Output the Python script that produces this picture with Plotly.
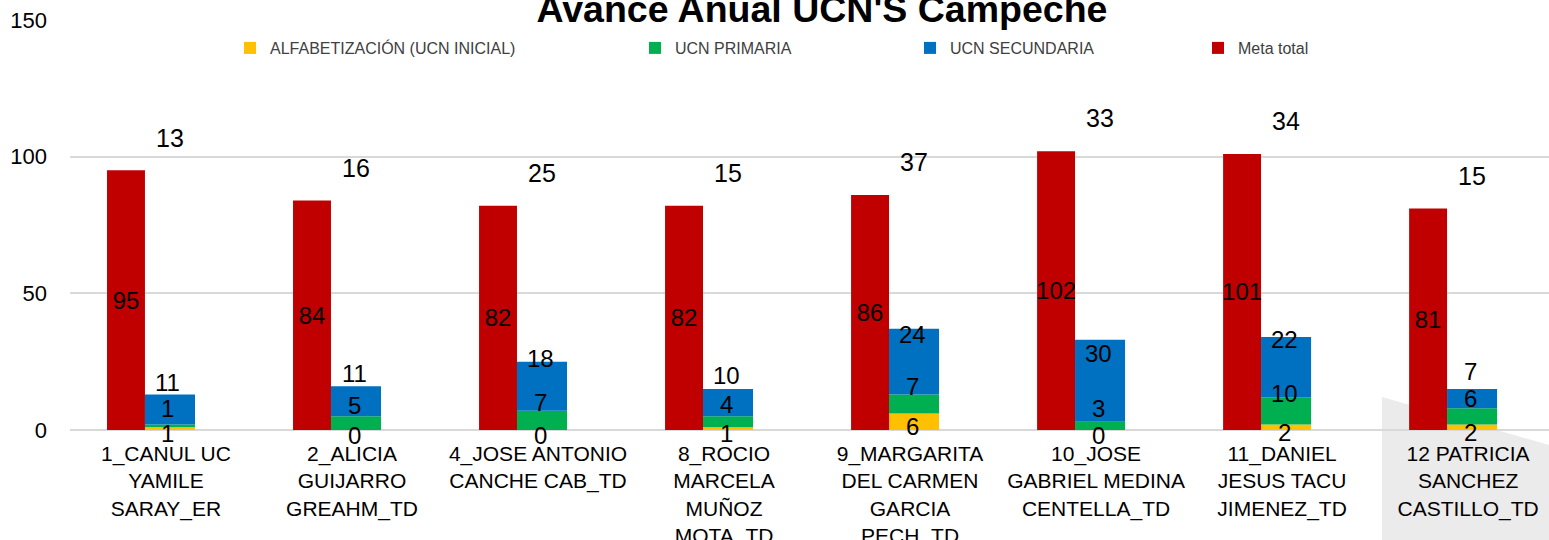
import plotly.graph_objects as go

# ---- data ----
categories = [
    "1_CANUL UC<br>YAMILE<br>SARAY_ER",
    "2_ALICIA<br>GUIJARRO<br>GREAHM_TD",
    "4_JOSE ANTONIO<br>CANCHE CAB_TD",
    "8_ROCIO<br>MARCELA<br>MUÑOZ<br>MOTA_TD",
    "9_MARGARITA<br>DEL CARMEN<br>GARCIA<br>PECH_TD",
    "10_JOSE<br>GABRIEL MEDINA<br>CENTELLA_TD",
    "11_DANIEL<br>JESUS TACU<br>JIMENEZ_TD",
    "12 PATRICIA<br>SANCHEZ<br>CASTILLO_TD",
]
alfabetizacion = [1, 0, 0, 1, 6, 0, 2, 2]
primaria = [1, 5, 7, 4, 7, 3, 10, 6]
secundaria = [11, 11, 18, 10, 24, 30, 22, 7]
meta_total = [95, 84, 82, 82, 86, 102, 101, 81]
y_ticks = [0, 50, 100, 150]

# ---- styles ----
C_YEL = "#FFC000"
C_GRN = "#00B050"
C_BLU = "#0070C0"
C_RED = "#C00000"
FONT = "Liberation Sans, Arial, sans-serif"
W, H = 1549, 540
ML, MR, MT, MB = 70, 0, 20, 110
LABEL_SIZE = 24

base_green = alfabetizacion[:]
base_blue = [a + p for a, p in zip(alfabetizacion, primaria)]
totals = [a + p + s for a, p, s in zip(alfabetizacion, primaria, secundaria)]

fig = go.Figure()

stack_w, stack_off = 0.269, -0.113
meta_w, meta_off = 0.204, -0.317

fig.add_trace(go.Bar(
    name="ALFABETIZACIÓN (UCN INICIAL)", x=categories, y=alfabetizacion,
    base=[0] * len(categories), width=stack_w, offset=stack_off,
    marker=dict(color=C_YEL, line=dict(width=0)), legend="legend", showlegend=True,
))
fig.add_trace(go.Bar(
    name="UCN PRIMARIA", x=categories, y=primaria, base=base_green,
    width=stack_w, offset=stack_off,
    marker=dict(color=C_GRN, line=dict(width=0)), legend="legend2",
))
fig.add_trace(go.Bar(
    name="UCN SECUNDARIA", x=categories, y=secundaria, base=base_blue,
    width=stack_w, offset=stack_off,
    marker=dict(color=C_BLU, line=dict(width=0)), legend="legend3",
))
fig.add_trace(go.Bar(
    name="Meta total", x=categories, y=meta_total, width=meta_w, offset=meta_off,
    marker=dict(color=C_RED, line=dict(width=0)), legend="legend4",
    text=[str(v) for v in meta_total], textposition="inside",
    insidetextanchor="middle", textangle=0, constraintext="none",
    insidetextfont=dict(family=FONT, size=LABEL_SIZE, color="#000000"),
))

# segment labels (placed relative to each segment)
annotations = []
def add_labels(ys, vals, size=LABEL_SIZE, xshift=2, yshift=0):
    for c, yv, v in zip(categories, ys, vals):
        annotations.append(dict(
            x=c, y=yv, xref="x", yref="y", text=str(v), showarrow=False,
            xanchor="center", yanchor="middle", xshift=xshift, yshift=yshift,
            font=dict(family=FONT, size=size, color="#000000"),
        ))

add_labels([a / 2 for a in alfabetizacion], alfabetizacion, yshift=-5)
add_labels([b + p / 2 + 6.5 for b, p in zip(base_green, primaria)], primaria)
add_labels([b + s / 2 + 10 for b, s in zip(base_blue, secundaria)], secundaria)
add_labels([m + 12 for m in meta_total], totals, size=25, xshift=4)

plot_w = W - ML - MR
plot_h = H - MT - MB
def px_x(px):
    return (px - ML) / plot_w
def px_y(py):
    return (H - MB - py) / plot_h

legend_common = dict(
    orientation="h", xref="container", yref="container", yanchor="middle",
    xanchor="left", y=1 - 48 / H, font=dict(family=FONT, size=16, color="#404040"),
    bgcolor="rgba(0,0,0,0)", itemwidth=30, visible=True,
)
legend_left_px = [230, 635, 910, 1198]

fig.update_layout(
    width=W, height=H, showlegend=True,
    margin=dict(l=ML, r=MR, t=MT, b=MB, autoexpand=False),
    paper_bgcolor="white", plot_bgcolor="white",
    barmode="overlay",
    title=dict(
        text="<b>Avance Anual UCN'S Campeche</b>", xref="container", yref="container",
        x=822 / W, xanchor="center", y=1 - 22 / H, yanchor="bottom",
        font=dict(family=FONT, size=37.5, color="#000000"),
    ),
    font=dict(family=FONT, size=21, color="#000000"),
    legend=dict(legend_common, x=legend_left_px[0] / W),
    legend2=dict(legend_common, x=legend_left_px[1] / W),
    legend3=dict(legend_common, x=legend_left_px[2] / W),
    legend4=dict(legend_common, x=legend_left_px[3] / W),
    xaxis=dict(
        type="category", range=[-0.516, 7.435], showgrid=False, showline=False,
        zeroline=False, ticks="", tickfont=dict(family=FONT, size=21, color="#000000"),
        ticklabelstandoff=9, fixedrange=True, automargin=False,
    ),
    yaxis=dict(
        range=[0, 150], tickvals=y_ticks, showgrid=True, gridcolor="#D9D9D9",
        gridwidth=2, zeroline=True, zerolinecolor="#D9D9D9", zerolinewidth=2,
        showline=False, ticks="", ticklabelstandoff=22, automargin=False,
        tickfont=dict(family=FONT, size=22, color="#000000"),
    ),
    annotations=annotations,
    shapes=[dict(
        type="path", xref="paper", yref="paper", layer="below",
        path="M {:.4f},{:.4f} L {:.4f},{:.4f} L {:.4f},{:.4f} L {:.4f},{:.4f} Z".format(
            px_x(1382), px_y(397), px_x(1549), px_y(445),
            px_x(1549), px_y(540), px_x(1382), px_y(540)),
        fillcolor="#EBEBEB", line=dict(width=0),
    )],
)

fig.write_html(
    "out.html",
    config={"displayModeBar": False},
    post_script="document.body.style.margin='0';document.body.style.overflow='hidden';",
)
